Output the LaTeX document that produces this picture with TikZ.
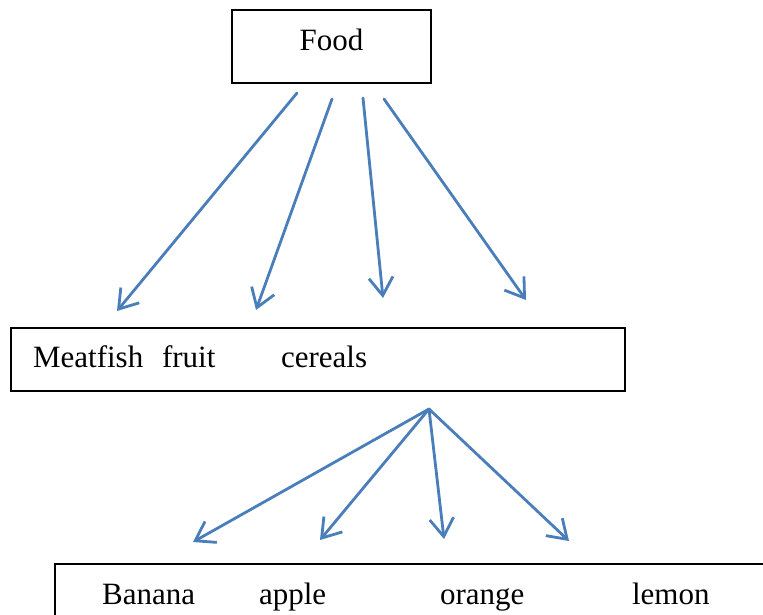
\documentclass[tikz,border=0pt]{standalone}
\usepackage{fontspec}
\setmainfont{Liberation Serif}
\usetikzlibrary{arrows.meta}
\definecolor{arrowblue}{RGB}{74,126,187}
\tikzset{
  box/.style={draw=black, line width=2.2pt, rectangle, inner ysep=0pt, font=\fontsize{31}{37}\selectfont},
  bluearrow/.style={draw=arrowblue, line width=2.8pt, line cap=round, -{Straight Barb[length=18pt,width=24pt]}}
}
\begin{document}
\begin{tikzpicture}[x=1pt,y=-1pt]
\useasboundingbox (0,0) rectangle (763,614);
\clip (0,0) rectangle (763,614);

% Boxes
\node[box, minimum width=199pt, minimum height=73pt, text height=22pt, text depth=15pt] (food) at (331.5,46.5) {Food};
\node[box, anchor=north west, minimum height=63pt, text width=570pt, inner xsep=22pt, text height=22pt, text depth=7pt, align=left] (kinds) at (10,327) {\makebox[129pt][l]{Meatfish}\makebox[119pt][l]{fruit}cereals};
\node[box, anchor=north west, minimum height=80pt, text width=760pt, inner xsep=47pt, text height=22pt, text depth=22pt, align=left] (fruits) at (54,563) {\makebox[157pt][l]{Banana}\makebox[181pt][l]{apple}\makebox[192pt][l]{orange}lemon};

% Arrows from Food
\coordinate (f1) at (297,93);
\coordinate (f2) at (332,99);
\coordinate (f3) at (363,98);
\coordinate (f4) at (384,99);
\coordinate (k1) at (117,311);
\coordinate (k2) at (256,310);
\coordinate (k3) at (383,298);
\coordinate (k4) at (526,300);
\draw[bluearrow] (f1) -- (k1);
\draw[bluearrow] (f2) -- (k2);
\draw[bluearrow] (f3) -- (k3);
\draw[bluearrow] (f4) -- (k4);

% Arrows to the fruits
\coordinate (hub) at (429,409);
\coordinate (b1) at (193,542);
\coordinate (b2) at (320,540);
\coordinate (b3) at (444,539);
\coordinate (b4) at (569,541);
\draw[bluearrow] (hub) -- (b1);
\draw[bluearrow] (hub) -- (b2);
\draw[bluearrow] (hub) -- (b3);
\draw[bluearrow] (hub) -- (b4);
\end{tikzpicture}
\end{document}
